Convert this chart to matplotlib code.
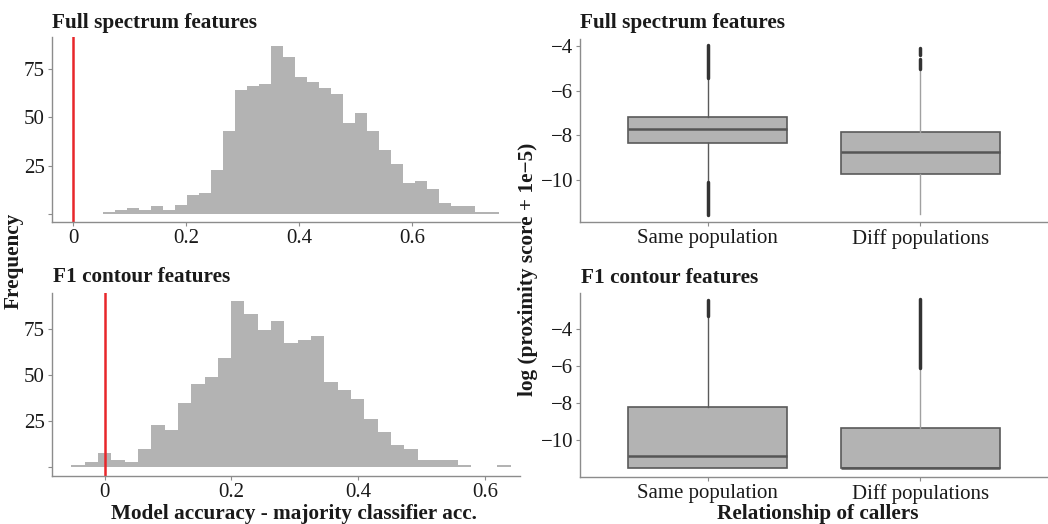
import numpy as np
import matplotlib.pyplot as plt

plt.rcParams['font.family'] = ['Liberation Serif', 'DejaVu Serif']

# histogram counts (regular bins)
full_bin_start = 0.0536
full_bin_width = 0.0212
full_counts = [1, 2, 3, 2, 4, 2, 5, 10, 11, 23, 43, 64, 66, 67, 87, 81, 71, 68,
               65, 62, 47, 52, 43, 33, 26, 16, 17, 13, 6, 4, 4, 1, 1]

f1_bin_start = -0.0525
f1_bin_width = 0.0210
f1_counts = [1, 3, 8, 4, 3, 10, 23, 20, 35, 45, 49, 59, 90, 83, 74, 79, 67, 69,
             71, 46, 42, 37, 26, 19, 12, 10, 4, 4, 4, 1, 0, 0, 1]

hist_xticks = [0, 0.2, 0.4, 0.6]
hist_xlabels = ['0', '0.2', '0.4', '0.6']
hist_yticks = [0, 25, 50, 75]
hist_ylabels = ['', '25', '50', '75']

# boxplot summaries
groups = ['Same population', 'Diff populations']
full_q1 = [-8.33, -9.74]
full_med = [-7.70, -8.75]
full_q3 = [-7.19, -7.85]
full_lo = [-10.09, -11.52]
full_hi = [-5.41, -5.02]
full_outliers = [[(-5.41, -3.92), (-11.59, -10.09)],
                 [(-5.02, -4.57), (-4.38, -4.08)]]

f1_q1 = [-11.51, -11.51]
f1_med = [-10.86, -11.49]
f1_q3 = [-8.20, -9.32]
f1_lo = [-11.51, -11.51]
f1_hi = [-3.33, -6.10]
f1_outliers = [[(-3.33, -2.47)], [(-6.10, -2.42)]]

box_yticks = [-4, -6, -8, -10]

W, H = 1048, 524
fig = plt.figure(figsize=(W / 100, H / 100), dpi=100)


def add_ax(left, top, right, bottom):
    return fig.add_axes([left / W, 1 - bottom / H, (right - left) / W, (bottom - top) / H])


def style(ax):
    for s in ['top', 'right']:
        ax.spines[s].set_visible(False)
    for s in ['left', 'bottom']:
        ax.spines[s].set_color('#8c8c8c')
        ax.spines[s].set_linewidth(1.0)
    ax.tick_params(colors='#8c8c8c', labelcolor='#1a1a1a', labelsize=15,
                   length=3, width=0.8, pad=2)


def hist(ax, start, width, counts, xlim, ylim):
    edges = start + width * np.arange(len(counts) + 1)
    ax.stairs(counts, edges, fill=True, color='#b3b3b3')
    ax.axvline(0, color='#e8262a', lw=1.8)
    ax.set_xlim(*xlim)
    ax.set_ylim(*ylim)
    ax.set_xticks(hist_xticks, hist_xlabels)
    ax.set_yticks(hist_yticks, hist_ylabels)
    style(ax)


def boxes(ax, q1, med, q3, lo, hi, outliers, ylim):
    stats = []
    for i in range(len(groups)):
        stats.append(dict(q1=q1[i], med=med[i], q3=q3[i], whislo=lo[i],
                          whishi=hi[i], fliers=[], label=groups[i]))
    whisker_cols = ['#5a5a5a', '#a0a0a0']
    for i, st in enumerate(stats):
        ax.bxp([st], positions=[i + 1], widths=0.75, patch_artist=True,
               showcaps=False,
               boxprops=dict(facecolor='#b3b3b3', edgecolor='#5a5a5a', lw=1.2),
               medianprops=dict(color='#555555', lw=1.8),
               whiskerprops=dict(color=whisker_cols[i], lw=1.0))
        for a, b in outliers[i]:
            ax.vlines(i + 1, a, b, color='#333333', lw=2.5, capstyle='round')
    ax.set_xlim(0.4, 2.6)
    ax.set_ylim(*ylim)
    ax.set_xticks([1, 2], groups)
    ax.set_yticks(box_yticks, ['\u2212' + str(-t) for t in box_yticks])
    style(ax)


ax1 = add_ax(52, 37, 520, 222)
hist(ax1, full_bin_start, full_bin_width, full_counts, (-0.037, 0.79), (-4, 91.4))
ax2 = add_ax(52, 293, 520, 476)
hist(ax2, f1_bin_start, f1_bin_width, f1_counts, (-0.083, 0.655), (-4.7, 94.2))
ax3 = add_ax(580, 39, 1048, 222)
boxes(ax3, full_q1, full_med, full_q3, full_lo, full_hi, full_outliers, (-11.9, -3.67))
ax4 = add_ax(580, 293, 1048, 477)
boxes(ax4, f1_q1, f1_med, f1_q3, f1_lo, f1_hi, f1_outliers, (-11.98, -2.07))

title_kw = dict(fontsize=15.3, fontweight='bold', color='#1a1a1a', va='baseline')
fig.text(52 / W, 1 - 28 / H, 'Full spectrum features', **title_kw)
fig.text(53 / W, 1 - 282 / H, 'F1 contour features', **title_kw)
fig.text(580 / W, 1 - 28 / H, 'Full spectrum features', **title_kw)
fig.text(581 / W, 1 - 283 / H, 'F1 contour features', **title_kw)

lab_kw = dict(fontsize=15.3, fontweight='bold', color='#1a1a1a', ha='center', va='center')
fig.text(294 / W, 1 - 514 / H, 'Model accuracy - majority classifier acc.', **lab_kw)
fig.text(818 / W, 1 - 514 / H, 'Relationship of callers', **lab_kw)
fig.text(14 / W, 1 - 261 / H, 'Frequency', rotation=90, **lab_kw)
fig.text(528 / W, 1 - 269 / H, 'log (proximity score + 1e\u22125)', rotation=90, **lab_kw)

fig.savefig('out.png', dpi=100)
